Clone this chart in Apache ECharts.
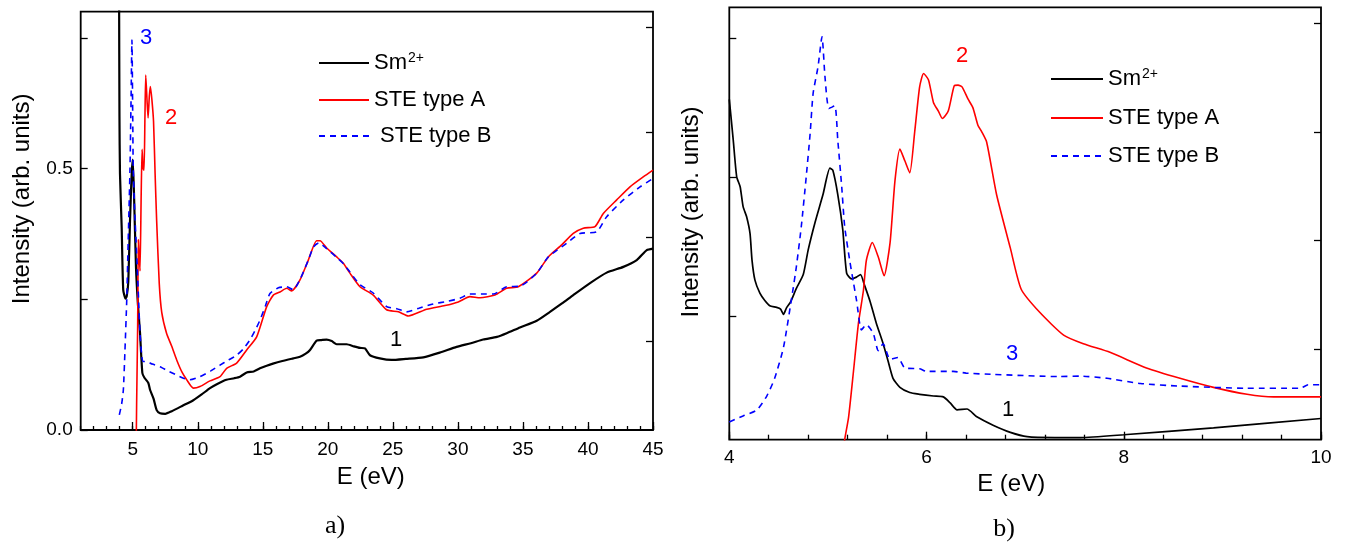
<!DOCTYPE html>
<html><head><meta charset="utf-8">
<script src="https://cdn.jsdelivr.net/npm/echarts@6/dist/echarts.min.js"></script>
<style>html,body{margin:0;padding:0;background:#fff}#c{width:1349px;height:544px}</style>
</head><body><div id="c"></div><script>
// ---------- panel a) data: E (eV), intensity ----------
const aSm = [[3.95,0.85],[3.98,0.6],[4.02,0.49],[4.15,0.388],[4.27,0.268],[4.45,0.251],[4.54,0.256],[4.66,0.284],[4.79,0.40],[4.92,0.49],[5.0,0.517],[5.1,0.45],[5.25,0.312],[5.4,0.24],[5.56,0.186],[5.74,0.109],[5.9,0.1],[6.2,0.09],[6.33,0.077],[6.6,0.06],[6.84,0.038],[7.1,0.032],[7.5,0.031],[8.0,0.036],[8.8,0.046],[9.66,0.057],[10.3,0.068],[10.94,0.080],[11.5,0.088],[12.2,0.096],[12.8,0.099],[13.25,0.102],[13.76,0.110],[14.3,0.112],[14.78,0.118],[15.3,0.123],[15.78,0.127],[16.5,0.132],[17.34,0.137],[17.86,0.140],[18.3,0.146],[18.63,0.153],[19.14,0.171],[19.5,0.172],[19.91,0.173],[20.3,0.170],[20.68,0.164],[21.45,0.164],[22.0,0.160],[22.47,0.157],[22.86,0.156],[23.24,0.143],[24.0,0.137],[24.9,0.134],[26.0,0.136],[27.34,0.139],[28.6,0.148],[29.9,0.159],[31.0,0.166],[31.95,0.173],[33.0,0.178],[33.75,0.185],[34.77,0.196],[36.06,0.209],[37.08,0.226],[38.0,0.242],[38.87,0.258],[40.16,0.281],[41.44,0.301],[42.72,0.312],[43.75,0.325],[44.52,0.344],[45.0,0.347]];
const aA = [[5.26,-0.05],[5.3,0.05],[5.38,0.2],[5.43,0.364],[5.5,0.33],[5.56,0.304],[5.65,0.45],[5.72,0.537],[5.8,0.50],[5.87,0.497],[5.94,0.6],[6.0,0.679],[6.1,0.63],[6.18,0.597],[6.28,0.64],[6.36,0.657],[6.48,0.63],[6.6,0.59],[6.72,0.49],[6.84,0.40],[7.04,0.28],[7.23,0.225],[7.6,0.185],[8.0,0.16],[8.38,0.134],[8.8,0.11],[9.15,0.096],[9.66,0.080],[10.17,0.083],[10.94,0.094],[11.71,0.102],[12.22,0.118],[12.99,0.128],[13.76,0.153],[14.53,0.178],[15.3,0.236],[15.81,0.258],[16.32,0.264],[16.84,0.271],[17.22,0.266],[17.86,0.287],[18.5,0.325],[19.14,0.362],[19.4,0.362],[19.91,0.348],[20.68,0.331],[21.19,0.319],[21.7,0.300],[22.47,0.274],[23.49,0.258],[24.52,0.230],[25.42,0.226],[26.19,0.218],[27.6,0.231],[29.0,0.238],[30.03,0.245],[30.93,0.255],[31.7,0.253],[32.85,0.258],[33.75,0.271],[34.64,0.274],[36.06,0.300],[36.95,0.331],[37.98,0.354],[38.87,0.376],[39.64,0.386],[40.54,0.389],[41.18,0.414],[42.21,0.440],[43.23,0.465],[44.25,0.484],[45.0,0.497]];
const aB = [[3.97,0.029],[4.15,0.05],[4.28,0.077],[4.4,0.15],[4.54,0.249],[4.65,0.36],[4.79,0.50],[4.87,0.63],[4.94,0.746],[5.0,0.6],[5.04,0.50],[5.15,0.42],[5.3,0.338],[5.45,0.25],[5.56,0.185],[5.7,0.14],[5.81,0.131],[6.07,0.131],[6.5,0.126],[7.1,0.121],[7.7,0.113],[8.38,0.105],[9.0,0.098],[9.4,0.096],[10.17,0.102],[11.0,0.113],[11.71,0.124],[12.3,0.133],[12.99,0.143],[13.5,0.155],[14.0,0.172],[14.4,0.19],[14.78,0.21],[15.2,0.237],[15.55,0.261],[16.2,0.272],[16.84,0.274],[17.35,0.268],[17.9,0.29],[18.5,0.325],[18.9,0.35],[19.3,0.358],[19.9,0.347],[20.68,0.33],[21.2,0.318],[21.7,0.302],[22.47,0.278],[23.49,0.262],[24.52,0.236],[25.3,0.232],[26.06,0.226],[27.0,0.233],[28.1,0.241],[29.2,0.246],[30.16,0.252],[30.93,0.260],[31.8,0.260],[32.72,0.260],[33.75,0.274],[34.77,0.275],[36.06,0.300],[36.95,0.331],[38.36,0.357],[39.39,0.376],[40.67,0.379],[41.44,0.408],[42.72,0.440],[44.0,0.465],[45.0,0.481]];
// ---------- panel b) data: E (eV), intensity (arb. units, 0..1 of frame) ----------
const bSm = [[4.0,0.787],[4.04,0.693],[4.075,0.608],[4.11,0.585],[4.14,0.539],[4.175,0.516],[4.21,0.477],[4.23,0.416],[4.26,0.369],[4.31,0.339],[4.36,0.322],[4.41,0.310],[4.48,0.306],[4.52,0.302],[4.55,0.290],[4.58,0.305],[4.62,0.318],[4.68,0.350],[4.75,0.382],[4.8,0.439],[4.87,0.503],[4.95,0.567],[5.02,0.628],[5.05,0.623],[5.1,0.567],[5.15,0.487],[5.19,0.385],[5.24,0.372],[5.29,0.376],[5.33,0.382],[5.37,0.358],[5.43,0.318],[5.49,0.270],[5.56,0.222],[5.61,0.182],[5.66,0.142],[5.73,0.121],[5.83,0.109],[5.93,0.105],[6.07,0.101],[6.17,0.099],[6.24,0.085],[6.31,0.069],[6.41,0.071],[6.51,0.053],[6.68,0.033],[6.85,0.017],[7.02,0.007],[7.3,0.005],[7.56,0.005],[8.0,0.0115],[8.91,0.0275],[10.0,0.049]];
const bA = [[5.14,-0.05],[5.17,0.0],[5.21,0.053],[5.26,0.16],[5.31,0.27],[5.36,0.345],[5.39,0.415],[5.45,0.456],[5.51,0.423],[5.57,0.379],[5.63,0.455],[5.68,0.599],[5.73,0.672],[5.78,0.645],[5.83,0.617],[5.88,0.712],[5.93,0.816],[5.97,0.847],[6.02,0.832],[6.07,0.780],[6.12,0.760],[6.16,0.743],[6.22,0.760],[6.28,0.818],[6.32,0.820],[6.36,0.816],[6.42,0.788],[6.47,0.768],[6.52,0.728],[6.56,0.712],[6.61,0.688],[6.71,0.567],[6.85,0.443],[6.96,0.348],[7.15,0.294],[7.39,0.242],[7.59,0.222],[7.86,0.202],[8.23,0.166],[8.57,0.142],[8.91,0.121],[9.25,0.105],[9.52,0.099],[10.0,0.099]];
const bB = [[4.0,0.041],[4.14,0.055],[4.28,0.069],[4.38,0.101],[4.46,0.142],[4.55,0.214],[4.64,0.339],[4.68,0.40],[4.73,0.493],[4.78,0.608],[4.82,0.709],[4.85,0.801],[4.9,0.863],[4.94,0.932],[4.97,0.84],[5.01,0.766],[5.07,0.772],[5.1,0.693],[5.14,0.585],[5.17,0.493],[5.22,0.416],[5.26,0.362],[5.29,0.323],[5.34,0.254],[5.39,0.266],[5.46,0.246],[5.51,0.206],[5.56,0.222],[5.63,0.186],[5.71,0.190],[5.78,0.166],[5.93,0.164],[6.0,0.158],[6.27,0.158],[6.4,0.154],[6.68,0.151],[7.35,0.146],[7.56,0.147],[7.83,0.142],[8.17,0.130],[8.57,0.124],[9.25,0.119],[9.79,0.119],[9.87,0.127],[10.0,0.127]];
// ---------- ticks / labels ----------
const aXLabels = [5,10,15,20,25,30,35,40,45];
const aYTicks = [0,0.25,0.5,0.75];
const aYLabels = [0,0.5];
const bXLabels = [4,6,8,10];
const seriesNames = ['Sm2+','STE type A','STE type B'];
const yName = 'Intensity (arb. units)';
const xName = 'E (eV)';

const FONT = 'Liberation Sans, Arial, sans-serif';
const BLACK = '#000', RED = '#ff0000', BLUE = '#0000ff';
const tickStyle = {color:BLACK, width:1.3};
const noSplit = {show:false};
const noLine = {show:false, onZero:false};

function legendRich(){
  return {
    m:{fontSize:22, fontFamily:FONT, color:BLACK, lineHeight:24},
    s:{fontSize:14, fontFamily:FONT, color:BLACK, verticalAlign:'top', lineHeight:14, padding:[0,0,0,1]}
  };
}

const chart = echarts.init(document.getElementById('c'), null, {renderer:'canvas'});
chart.setOption({
  animation:false,
  backgroundColor:'#fff',
  grid:[
    {left:80.7, top:11.7, width:572.3, height:418.3, show:true, borderColor:BLACK, borderWidth:1.8, backgroundColor:'transparent'},
    {left:729.3, top:7.3, width:591.7, height:432.4, show:true, borderColor:BLACK, borderWidth:1.8, backgroundColor:'transparent'}
  ],
  xAxis:[
    {gridIndex:0, type:'value', min:1, max:45, interval:1, position:'bottom', axisLine:noLine,
     axisTick:{inside:true, length:4, lineStyle:tickStyle}, axisLabel:{show:false}, splitLine:noSplit},
    {gridIndex:0, type:'value', min:1, max:45, position:'bottom', axisLine:noLine,
     axisTick:{inside:true, length:8, customValues:aXLabels, lineStyle:tickStyle},
     axisLabel:{customValues:aXLabels, fontSize:19, fontFamily:FONT, color:BLACK, margin:10},
     splitLine:noSplit,
     name:xName, nameLocation:'middle', nameGap:35,
     nameTextStyle:{fontSize:24, fontFamily:FONT, color:BLACK, padding:[0,0,0,8]}},
    {gridIndex:1, type:'value', min:4, max:10, interval:0.4, position:'bottom', axisLine:noLine,
     axisTick:{inside:true, length:5, lineStyle:tickStyle}, axisLabel:{show:false}, splitLine:noSplit},
    {gridIndex:1, type:'value', min:4, max:10, position:'bottom', axisLine:noLine,
     axisTick:{inside:true, length:8, customValues:bXLabels, lineStyle:tickStyle},
     axisLabel:{customValues:bXLabels, fontSize:19, fontFamily:FONT, color:BLACK, margin:9},
     splitLine:noSplit,
     name:xName, nameLocation:'middle', nameGap:31,
     nameTextStyle:{fontSize:24, fontFamily:FONT, color:BLACK, padding:[0,28,0,0]}}
  ],
  yAxis:[
    {gridIndex:0, type:'value', min:0, max:0.8, position:'left', axisLine:noLine,
     axisTick:{inside:true, length:7, customValues:aYTicks, lineStyle:tickStyle},
     axisLabel:{customValues:aYLabels, formatter:v=>Number(v).toFixed(1), fontSize:19, fontFamily:FONT, color:BLACK, margin:8},
     splitLine:noSplit,
     name:yName, nameLocation:'middle', nameGap:46,
     nameTextStyle:{fontSize:24, fontFamily:FONT, color:BLACK, padding:[0,0,0,44]}},
    {gridIndex:0, type:'value', min:-0.8436, max:3.1528, position:'right', axisLine:noLine,
     axisTick:{inside:true, length:7, customValues:[0,1,2,3], lineStyle:tickStyle},
     axisLabel:{show:false}, splitLine:noSplit},
    {gridIndex:1, type:'value', min:0, max:1, show:false, axisLine:noLine, splitLine:noSplit},
    {gridIndex:1, type:'value', min:-0.8909, max:2.2233, position:'left', axisLine:noLine,
     axisTick:{inside:true, length:7, customValues:[0,1,2], lineStyle:tickStyle},
     axisLabel:{show:false}, splitLine:noSplit,
     name:yName, nameLocation:'middle', nameGap:26,
     nameTextStyle:{fontSize:24, fontFamily:FONT, color:BLACK, padding:[0,0,0,23]}},
    {gridIndex:1, type:'value', min:-0.8362, max:3.1502, position:'right', axisLine:noLine,
     axisTick:{inside:true, length:7, customValues:[0,1,2,3], lineStyle:tickStyle},
     axisLabel:{show:false}, splitLine:noSplit}
  ],
  legend:[
    {left:313, top:46, orient:'vertical', itemWidth:50, itemHeight:22, itemGap:14, data:seriesNames,
     selectedMode:false, itemStyle:{opacity:0},
     formatter:n=> n==='Sm2+' ? '{m|Sm}{s|2+}' : (n==='STE type B' ? ' '+n : n),
     textStyle:{fontSize:22, fontFamily:FONT, color:BLACK, lineHeight:22, rich:legendRich()}},
    {left:1045, top:62, orient:'vertical', itemWidth:52, itemHeight:22, itemGap:16, data:seriesNames,
     selectedMode:false, itemStyle:{opacity:0},
     formatter:n=> n==='Sm2+' ? '{m|Sm}{s|2+}' : n,
     textStyle:{fontSize:22, fontFamily:FONT, color:BLACK, lineHeight:22, rich:legendRich()}}
  ],
  series:[
    {type:'line', name:'Sm2+', xAxisIndex:0, yAxisIndex:0, data:aSm, symbol:'none', smooth:0.2,
     lineStyle:{color:BLACK, width:2.2}, itemStyle:{color:BLACK}},
    {type:'line', name:'STE type A', xAxisIndex:0, yAxisIndex:0, data:aA, symbol:'none', smooth:0.2,
     lineStyle:{color:RED, width:1.6}, itemStyle:{color:RED}},
    {type:'line', name:'STE type B', xAxisIndex:0, yAxisIndex:0, data:aB, symbol:'none', smooth:0.2,
     lineStyle:{color:BLUE, width:1.6, type:[6,5]}, itemStyle:{color:BLUE}},
    {type:'line', name:'Sm2+', xAxisIndex:3, yAxisIndex:2, data:bSm, symbol:'none', smooth:0.2,
     lineStyle:{color:BLACK, width:1.7}, itemStyle:{color:BLACK}},
    {type:'line', name:'STE type A', xAxisIndex:3, yAxisIndex:2, data:bA, symbol:'none', smooth:0.2,
     lineStyle:{color:RED, width:1.6}, itemStyle:{color:RED}},
    {type:'line', name:'STE type B', xAxisIndex:3, yAxisIndex:2, data:bB, symbol:'none', smooth:0.2,
     lineStyle:{color:BLUE, width:1.6, type:[6,5]}, itemStyle:{color:BLUE}}
  ],
  graphic:[
    {type:'text', x:146, y:38, style:{text:'3', fill:BLUE, fontSize:22, fontFamily:FONT, align:'center', verticalAlign:'middle', textAlign:'center', textVerticalAlign:'middle'}},
    {type:'text', x:171, y:118, style:{text:'2', fill:RED, fontSize:22, fontFamily:FONT, align:'center', verticalAlign:'middle', textAlign:'center', textVerticalAlign:'middle'}},
    {type:'text', x:396, y:340, style:{text:'1', fill:BLACK, fontSize:22, fontFamily:FONT, align:'center', verticalAlign:'middle', textAlign:'center', textVerticalAlign:'middle'}},
    {type:'text', x:962, y:56, style:{text:'2', fill:RED, fontSize:22, fontFamily:FONT, align:'center', verticalAlign:'middle', textAlign:'center', textVerticalAlign:'middle'}},
    {type:'text', x:1012, y:354, style:{text:'3', fill:BLUE, fontSize:22, fontFamily:FONT, align:'center', verticalAlign:'middle', textAlign:'center', textVerticalAlign:'middle'}},
    {type:'text', x:1008, y:410, style:{text:'1', fill:BLACK, fontSize:22, fontFamily:FONT, align:'center', verticalAlign:'middle', textAlign:'center', textVerticalAlign:'middle'}},
    {type:'text', x:335, y:526, style:{text:'a)', fill:BLACK, fontSize:26, fontFamily:'Liberation Serif, DejaVu Serif, serif', align:'center', verticalAlign:'middle', textAlign:'center', textVerticalAlign:'middle'}},
    {type:'text', x:1004, y:529, style:{text:'b)', fill:BLACK, fontSize:26, fontFamily:'Liberation Serif, DejaVu Serif, serif', align:'center', verticalAlign:'middle', textAlign:'center', textVerticalAlign:'middle'}}
  ]
});
</script></body></html>
